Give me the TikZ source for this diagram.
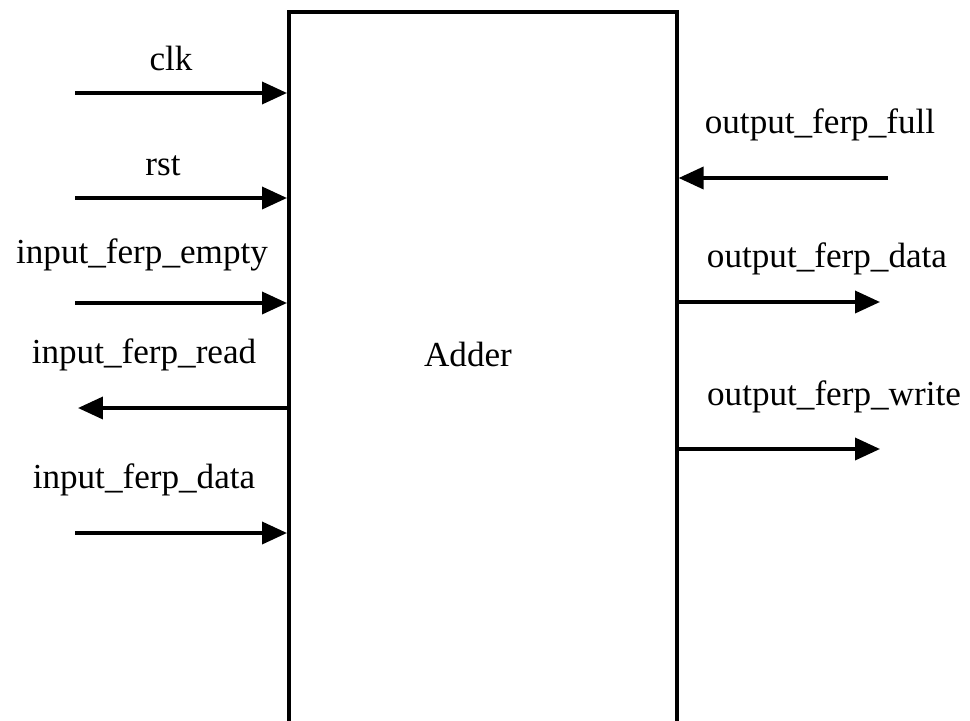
\documentclass[tikz,border=0pt]{standalone}
\usepackage{fontspec}
\setmainfont{Liberation Serif}
\usetikzlibrary{positioning,arrows.meta}
\tikzset{
  >={Triangle[length=5mm,width=4.4mm]},
  port/.style={line width=2.1pt},
  block/.style={draw,line width=2.1pt,minimum width=7.76cm,minimum height=15cm,inner sep=0pt},
  sig/.style={font=\fontsize{20}{24}\selectfont,inner sep=0pt,anchor=base},
}

\begin{document}
\begin{tikzpicture}[x=0.02cm,y=-0.02cm]
\useasboundingbox (0,0) rectangle (970,720);
\clip (0,0) rectangle (970,720);

% the module itself, running off the bottom
\node[block,anchor=north west] (adder) at (287,10) {};
\node[sig] (adder-name) at (468,366) {Adder};

% inputs on the left
\coordinate (clk-in) at (75,93);
\coordinate (rst-in) at (75,198);
\coordinate (empty-in) at (75,303);
\coordinate (read-out) at (78,408);
\coordinate (data-in) at (75,533);

\draw[->,port] (clk-in) -- (clk-in -| adder.west);
\draw[->,port] (rst-in) -- (rst-in -| adder.west);
\draw[->,port] (empty-in) -- (empty-in -| adder.west);
\draw[->,port] (read-out -| adder.west) -- (read-out);
\draw[->,port] (data-in) -- (data-in -| adder.west);

\node[sig] (clk-lbl) at (171,70) {clk};
\node[sig] (rst-lbl) at (163,175) {rst};
\node[sig] (empty-lbl) at (142,263) {input\_ferp\_empty};
\node[sig] (read-lbl) at (144,363) {input\_ferp\_read};
\node[sig] (data-lbl) at (144,488) {input\_ferp\_data};

% outputs on the right
\coordinate (full-in) at (888,178);
\coordinate (odata-out) at (880,302);
\coordinate (write-out) at (880,449);

\draw[->,port] (full-in) -- (full-in -| adder.east);
\draw[->,port] (odata-out -| adder.east) -- (odata-out);
\draw[->,port] (write-out -| adder.east) -- (write-out);

\node[sig] (full-lbl) at (820,133) {output\_ferp\_full};
\node[sig] (odata-lbl) at (827,267) {output\_ferp\_data};
\node[sig] (write-lbl) at (834,405) {output\_ferp\_write};
\end{tikzpicture}
\end{document}
